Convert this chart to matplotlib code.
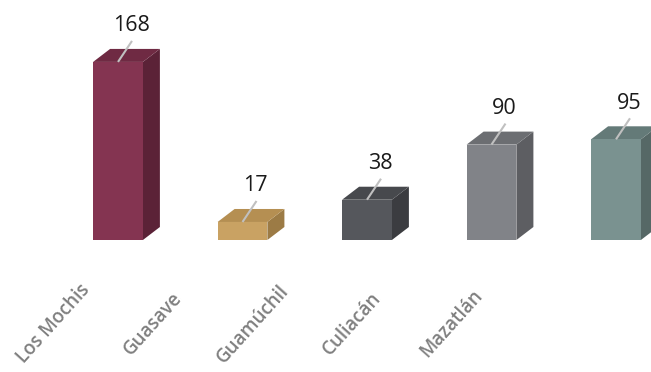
import matplotlib
matplotlib.use('Agg')
import matplotlib.pyplot as plt
from matplotlib.patches import Polygon

# daten
cities = ['Los Mochis', 'Guasave', 'Guamúchil', 'Culiacán', 'Mazatlán']
values = [168, 17, 38, 90, 95]
front_colors = ['#843451', '#c9a263', '#55575c', '#818388', '#7a9290']
side_colors = ['#5b2237', '#9c7b45', '#3b3c40', '#5d5e62', '#566866']
top_colors = ['#6f2a43', '#b58f52', '#47494d', '#6c6e72', '#647a78']

W, H = 651, 372
fig = plt.figure(figsize=(W / 100, H / 100), dpi=100)
ax = fig.add_axes([0, 0, 1, 1])

# pixel -> daten umrechnung
px_x = 124.5          # px pro kategorie
px_y = 1.06           # px pro wert
x0_px, base_px = 118, 240
ax.set_xlim(-x0_px / px_x, (W - x0_px) / px_x)
ax.set_ylim(-(H - base_px) / px_y, base_px / px_y)
ax.axis('off')

bw = 0.4
dx = 17 / px_x
dy = 13 / px_y

for i, (v, fc, sc, tc) in enumerate(zip(values, front_colors, side_colors, top_colors)):
    l, r = i - bw / 2, i + bw / 2
    # seite
    ax.add_patch(Polygon([(r, 0), (r + dx, dy), (r + dx, v + dy), (r, v)],
                         closed=True, facecolor=sc, edgecolor='none'))
    # deckel
    ax.add_patch(Polygon([(l, v), (r, v), (r + dx, v + dy), (l + dx, v + dy)],
                         closed=True, facecolor=tc, edgecolor='none'))
    # front
    ax.add_patch(Polygon([(l, 0), (r, 0), (r, v), (l, v)],
                         closed=True, facecolor=fc, edgecolor='none'))
    # leader + wert
    ax.plot([i, i + 14 / px_x], [v, v + 21 / px_y], color='#c0c0c0', lw=1.5,
            solid_capstyle='butt')
    ax.text(i + 13 / px_x, v + 36 / px_y, str(v), ha='center', va='center',
            fontsize=15.5, family='Open Sans', color='#1a1a1a')

# kategorien, schräg
for i, c in enumerate(cities):
    ax.text(-0.52 + 0.8 * i, -84 / px_y, c, rotation=48,
            rotation_mode='anchor', ha='center', va='center',
            fontsize=13.5, family='Open Sans', fontweight='semibold',
            color='#808080')

fig.savefig('out.png', dpi=100)
